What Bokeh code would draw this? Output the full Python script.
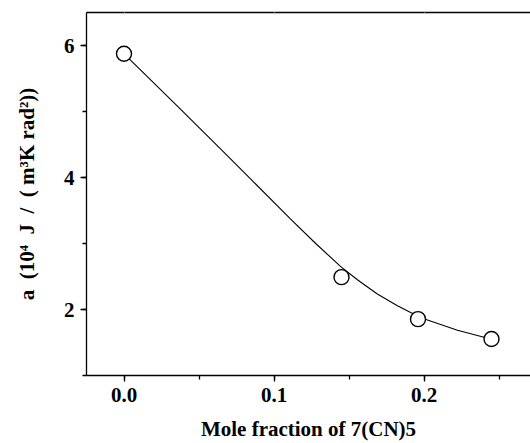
from bokeh.plotting import figure
from bokeh.models import Range1d, SingleIntervalTicker, NumeralTickFormatter, LinearAxis
from bokeh.embed import file_html
from bokeh.resources import INLINE

# measured data points
mole_fraction = [0.0, 0.145, 0.196, 0.245]
a_values = [5.875, 2.49, 1.854, 1.553]

# points
curve_x = [0.0, 0.0045, 0.0356, 0.0645, 0.0845, 0.1111, 0.1278, 0.1445,
           0.1556, 0.1689, 0.1823, 0.1911, 0.2023, 0.2223, 0.2400, 0.2450]
curve_y = [5.875, 5.773, 5.08, 4.43, 3.975, 3.37, 3.00, 2.65,
           2.45, 2.235, 2.056, 1.955, 1.84, 1.685, 1.58, 1.553]

x_label = "Mole fraction of 7(CN)5"
y_label = "a\u00a0 (10\u2074\u00a0 J\u00a0 /\u00a0 ( m\u00b3K rad\u00b2))"

FONT = "Liberation Serif"

p = figure(width=530, height=443, output_backend="svg", toolbar_location=None,
           x_range=Range1d(-0.025, 0.271), y_range=Range1d(1.0, 6.5),
           min_border_left=86, min_border_right=0, min_border_top=12,
           min_border_bottom=66)

p.background_fill_color = "white"
p.border_fill_color = "white"
p.grid.visible = False
p.outline_line_color = None

p.line(curve_x, curve_y, line_color="black", line_width=1.1)
p.scatter(mole_fraction, a_values, size=15, marker="circle",
          fill_color="white", line_color="black", line_width=1.4)

xa = p.xaxis[0]
xa.ticker = SingleIntervalTicker(interval=0.1, num_minor_ticks=2)
xa.formatter = NumeralTickFormatter(format="0.0")
ya = p.yaxis[0]
ya.ticker = SingleIntervalTicker(interval=2, num_minor_ticks=2)

for ax in (xa, ya):
    ax.axis_line_width = 1.3
    ax.major_tick_line_width = 1.3
    ax.minor_tick_line_width = 1.3
    ax.major_tick_in = 0
    ax.major_tick_out = 6
    ax.minor_tick_in = 0
    ax.minor_tick_out = 4
    ax.major_label_text_font = FONT
    ax.major_label_text_font_style = "bold"
    ax.major_label_text_font_size = "21px"
    ax.major_label_text_color = "black"
    ax.axis_label_text_font = FONT
    ax.axis_label_text_font_style = "bold"
    ax.axis_label_text_font_size = "21px"
    ax.axis_label_text_color = "black"

xa.axis_label = x_label
ya.axis_label = y_label
xa.major_label_standoff = 6
xa.axis_label_standoff = 12
ya.major_label_standoff = 6
ya.axis_label_standoff = 22

# top frame line (no labels), like the original's box
top = LinearAxis(ticker=SingleIntervalTicker(interval=0.1, num_minor_ticks=2),
                 axis_line_width=1.3, major_tick_in=1, major_tick_out=0,
                 minor_tick_in=0, minor_tick_out=0,
                 major_tick_line_color="#bbbbbb", major_tick_line_width=1,
                 major_label_text_font_size="1px", major_label_text_alpha=0,
                 major_label_standoff=0)
p.add_layout(top, "above")

open("out.html", "w").write(file_html(p, INLINE))
